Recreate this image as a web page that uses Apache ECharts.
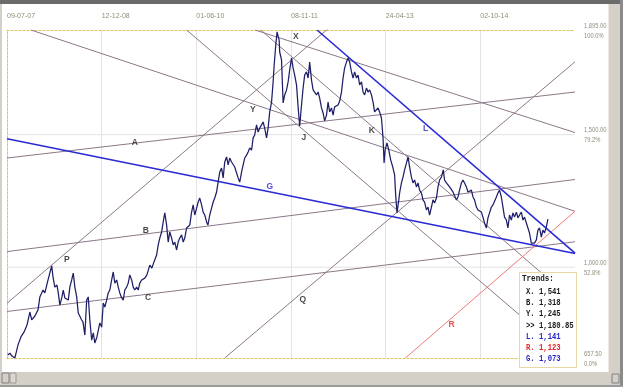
<!DOCTYPE html>
<html><head><meta charset="utf-8">
<script src="https://cdn.jsdelivr.net/npm/echarts@6/dist/echarts.min.js"></script>
<style>html,body{margin:0;padding:0;background:#fff}#c{width:623px;height:387px}</style>
</head><body><div id="c"></div>
<script>
// ---- axis ticks ----
const dateLabels = ['09-07-07','12-12-08','01-06-10','08-11-11','24-04-13','02-10-14'];
const barsPerLabel = 360;
const xMaxBar = 2160;
const yMin = 657.5, yMax = 1895;
const yTickVals = [657.5, 1000, 1500, 1895];
const yTickPrices = ['657.50','1,000.00','1,500.00','1,895.00'];
const yTickPcts = ['0.0%','52.8%','79.2%','100.0%'];
const yGridVals = [1000, 1500];

// ---- price series (bar index, close) ----
const priceBars = [3,11,19,30,42,53,65,76,82,87,94,106,118,125,137,144,156,170,175,182,190,195,201,209,214,220,227,233,239,246,252,258,265,271,277,284,289,296,303,309,315,322,328,334,342,353,360,366,372,379,385,391,398,404,410,417,423,429,436,442,448,455,461,467,474,480,486,493,499,505,512,517,524,532,543,551,559,569,575,581,588,594,600,607,613,619,626,632,638,645,651,657,664,670,676,683,695,702,708,714,721,727,733,740,746,752,759,764,771,778,784,790,797,803,809,816,822,828,835,841,847,854,860,866,873,879,885,892,898,904,911,917,923,930,936,942,949,955,961,968,974,980,987,993,999,1006,1012,1016,1022,1027,1031,1035,1037,1044,1050,1056,1063,1069,1075,1082,1088,1094,1101,1107,1113,1120,1126,1132,1139,1145,1151,1158,1164,1170,1177,1183,1189,1196,1202,1208,1215,1221,1227,1234,1240,1246,1253,1259,1265,1272,1278,1284,1291,1297,1303,1310,1316,1322,1329,1335,1341,1348,1354,1360,1367,1373,1379,1386,1392,1398,1405,1411,1417,1424,1430,1434,1438,1445,1452,1459,1467,1474,1478,1483,1490,1493,1500,1506,1512,1519,1525,1531,1538,1544,1550,1557,1563,1569,1576,1582,1588,1595,1601,1607,1614,1620,1626,1633,1639,1645,1652,1659,1664,1671,1677,1683,1690,1696,1702,1709,1715,1721,1728,1734,1740,1747,1753,1759,1766,1772,1778,1785,1791,1797,1804,1810,1816,1823,1829,1835,1842,1848,1854,1861,1867,1873,1880,1886,1892,1899,1905,1911,1918,1924,1930,1937,1943,1949,1956,1962,1968,1975,1981,1987,1994,2000,2006,2013,2019,2025,2032,2038,2044,2051,2057];
const priceVals = [669,676,665,658,707,737,756,782,808,831,801,816,839,888,914,903,952,1005,963,925,933,903,857,888,914,884,888,876,925,952,978,925,888,827,827,801,793,744,876,888,801,725,752,714,737,790,774,865,850,876,903,914,952,982,940,952,925,903,884,876,914,925,940,971,952,925,914,925,914,940,952,948,959,971,1008,997,1020,1046,1084,1110,1133,1171,1205,1159,1095,1133,1110,1084,1095,1065,1095,1110,1122,1095,1110,1148,1159,1208,1235,1197,1223,1246,1261,1235,1208,1197,1171,1159,1197,1223,1246,1261,1284,1322,1359,1374,1337,1397,1416,1386,1412,1397,1397,1378,1374,1337,1321,1359,1386,1412,1423,1435,1450,1442,1488,1499,1537,1510,1525,1537,1548,1525,1488,1525,1586,1623,1699,1763,1838,1888,1895,1857,1812,1782,1620,1650,1669,1699,1744,1789,1752,1725,1688,1605,1533,1612,1676,1725,1737,1714,1774,1706,1669,1676,1650,1661,1638,1601,1582,1552,1574,1623,1586,1601,1574,1605,1601,1612,1627,1661,1714,1752,1774,1789,1774,1737,1714,1737,1714,1725,1688,1699,1661,1650,1676,1661,1669,1650,1623,1586,1582,1601,1586,1563,1488,1393,1442,1469,1442,1405,1378,1348,1273,1205,1254,1280,1318,1340,1367,1393,1416,1378,1340,1318,1329,1303,1318,1291,1280,1254,1246,1216,1227,1197,1227,1254,1242,1261,1303,1329,1340,1367,1329,1318,1322,1303,1299,1284,1280,1254,1265,1291,1318,1329,1318,1303,1284,1280,1291,1265,1254,1227,1216,1223,1208,1189,1167,1148,1186,1205,1227,1235,1242,1265,1280,1291,1265,1227,1189,1178,1148,1197,1178,1205,1189,1208,1186,1197,1208,1178,1189,1167,1148,1129,1091,1084,1091,1103,1140,1148,1114,1140,1129,1152,1181];

// ---- trend lines: [bar, value] endpoints ----
const trendNames  = ['A','B','C','P','Q','X','Y','K','M','R','G','L'];
const trendKinds  = ['m','m','m','m','m','m','m','m','m','r','b','b'];
const trendStarts = [[0,1412],[0,1059],[0,833],[0,864],[828,657.5],[943,1895],[91,1895],[965,1895],[683,1895],[1515,657.5],[0,1485],[1179,1895]];
const trendEnds   = [[2160,1661],[2160,1331],[2160,1096],[1300,1967],[2160,1775],[2160,1508],[2160,1211],[2160,869],[2160,641],[2160,1211],[2160,1052],[2160,1053]];

// ---- letter annotations ----
const markNames = ['X','Y','J','K','L','A','G','B','P','C','Q','R'];
const markKinds = ['k','k','k','k','b','k','b','k','k','k','k','r'];
const markPos = [[1098,1869],[935,1593],[1129,1488],[1387,1514],[1592,1521],[486,1469],[999,1303],[528,1137],[228,1027],[536,884],[1125,876],[1691,782]];

// ---- trends box ----
const legendTitle = 'Trends:';
const legendKeys = ['X.','B.','Y.','>>','L.','R.','G.'];
const legendVals = ['1,541','1,318','1,245','1,180.85','1,141','1,123','1,073'];
const legendKinds = ['k','k','k','k','b','r','b'];

const kindColor = {m:'#8c7888', r:'#f07878', b:'#2a2ad6', k:'#1a1a1a'};
const textKindColor = {k:'#1a1a1a', b:'#2424c8', r:'#e02424'};
const labelFont = "'Liberation Sans',Arial,sans-serif";
const labelColor = '#8e8e78';
const borderStyle = {color:'#dcc456', type:[2,2], width:1};
const monoFont = "bold 9.5px 'Liberation Mono','DejaVu Sans Mono',monospace";

const chart = echarts.init(document.getElementById('c'), null, {renderer:'canvas'});

const series = [];
yGridVals.forEach(v => series.push({
  type:'line', data:[[0,v],[xMaxBar,v]], symbol:'none', silent:true, z:1,
  lineStyle:{color:'#e3e3e3', width:1}
}));
trendNames.forEach((n,i) => {
  const k = trendKinds[i];
  series.push({
    type:'line', name:n, data:[trendStarts[i], trendEnds[i]], symbol:'none', silent:true,
    clip:true, z:2,
    lineStyle:{color:kindColor[k], width: k==='b' ? 1.6 : 1}
  });
});
series.push({
  type:'line', name:'price', data: priceBars.map((b,i)=>[b, priceVals[i]]),
  symbol:'none', silent:true, z:3, clip:true,
  lineStyle:{color:'#1f1f68', width:1.25}
});
series.push({
  type:'scatter', symbolSize:0.1, silent:true, z:4,
  itemStyle:{color:'rgba(0,0,0,0)'},
  data: markNames.map((n,i)=>({name:n, value:markPos[i],
    label:{color:textKindColor[markKinds[i]]}})),
  label:{show:true, position:'inside', formatter:'{b}', fontSize:8.5, fontWeight:'bold',
    fontFamily:"Arial,'Liberation Sans',sans-serif"}
});

chart.setOption({
  animation:false,
  backgroundColor:'#ffffff',
  grid:{left:7, right:48, top:30, bottom:29, containLabel:false},
  xAxis:[
    {type:'value', position:'top', min:0, max:xMaxBar, interval:barsPerLabel,
     axisLine:{show:true, lineStyle:borderStyle}, axisTick:{show:false},
     splitLine:{show:true, showMinLine:false, showMaxLine:false, lineStyle:{color:'#e3e3e3', width:1}},
     axisLabel:{show:true, margin:10, align:'left', color:labelColor, fontSize:7, fontFamily:labelFont,
       showMaxLabel:false,
       formatter:(v)=>{ const i = Math.round(v/barsPerLabel); return i < dateLabels.length ? dateLabels[i] : ''; }}},
    {type:'value', position:'bottom', min:0, max:xMaxBar, interval:barsPerLabel,
     axisLine:{show:true, onZero:false, lineStyle:borderStyle}, axisTick:{show:false},
     splitLine:{show:false}, axisLabel:{show:false}}
  ],
  yAxis:[
    {type:'value', position:'right', min:yMin, max:yMax,
     axisLine:{show:true, lineStyle:borderStyle}, axisTick:{show:false}, splitLine:{show:false},
     axisLabel:{show:false}},
    {type:'value', position:'left', min:yMin, max:yMax,
     axisLine:{show:true, onZero:false, lineStyle:borderStyle}, axisTick:{show:false},
     splitLine:{show:false}, axisLabel:{show:false}}
  ],
  series: series
});

// right-hand price / percent tick labels, placed through the axis scale (condensed text)
const graphics = [
  {type:'rect', shape:{x:0,y:0,width:623,height:4}, style:{fill:'#6b6b6b'}, z:10},
  {type:'rect', shape:{x:0,y:4,width:2,height:368}, style:{fill:'#d4d0c8'}, z:10},
  {type:'rect', shape:{x:609,y:4,width:11,height:368}, style:{fill:'#d4d0c8'}, z:10},
  {type:'rect', shape:{x:608,y:4,width:1,height:368}, style:{fill:'#ece9e2'}, z:10},
  {type:'rect', shape:{x:620,y:0,width:3,height:387}, style:{fill:'#8a8a8a'}, z:10},
  {type:'rect', shape:{x:0,y:372,width:620,height:13}, style:{fill:'#d4d0c8'}, z:10},
  {type:'rect', shape:{x:0,y:385,width:623,height:2}, style:{fill:'#9a9a9a'}, z:10},
  {type:'rect', shape:{x:2,y:373,width:7,height:10}, style:{fill:'#d4d0c8', stroke:'#808080', lineWidth:1}, z:11},
  {type:'rect', shape:{x:10,y:373,width:6,height:10}, style:{fill:'#dcd8d0', stroke:'#9a9a9a', lineWidth:1}, z:11},
  {type:'rect', shape:{x:612,y:374,width:7,height:9}, style:{fill:'#d4d0c8', stroke:'#808080', lineWidth:1}, z:11},
  {type:'rect', shape:{x:519.5,y:272.5,width:57,height:95}, style:{fill:'#ffffff', stroke:'#e8d8a4', lineWidth:1}, z:20},
  {type:'text', x:522, y:278.5, scaleX:0.8, z:21,
    style:{text:legendTitle, fill:'#1a1a1a', font:monoFont, verticalAlign:'middle'}}
];
legendKeys.forEach((k,i) => graphics.push({
  type:'text', x:526, y:291.7 + i*11.15, scaleX:0.76, z:21,
  style:{text:k + ' ' + legendVals[i], fill:textKindColor[legendKinds[i]],
    font:monoFont, verticalAlign:'middle'}
}));
const xRight = chart.convertToPixel({xAxisIndex:0}, xMaxBar);
yTickVals.forEach((v,i) => {
  const py = chart.convertToPixel({yAxisIndex:0}, v);
  graphics.push({type:'text', x:xRight + 9, y:py - 4.5, scaleX:0.72, z:12,
    style:{text:yTickPrices[i], fill:labelColor, font:"8px 'Liberation Sans',Arial,sans-serif", verticalAlign:'middle'}});
  graphics.push({type:'text', x:xRight + 9, y:py + 5.5, scaleX:0.72, z:12,
    style:{text:yTickPcts[i], fill:labelColor, font:"8px 'Liberation Sans',Arial,sans-serif", verticalAlign:'middle'}});
});
chart.setOption({graphic: graphics});
</script></body></html>
